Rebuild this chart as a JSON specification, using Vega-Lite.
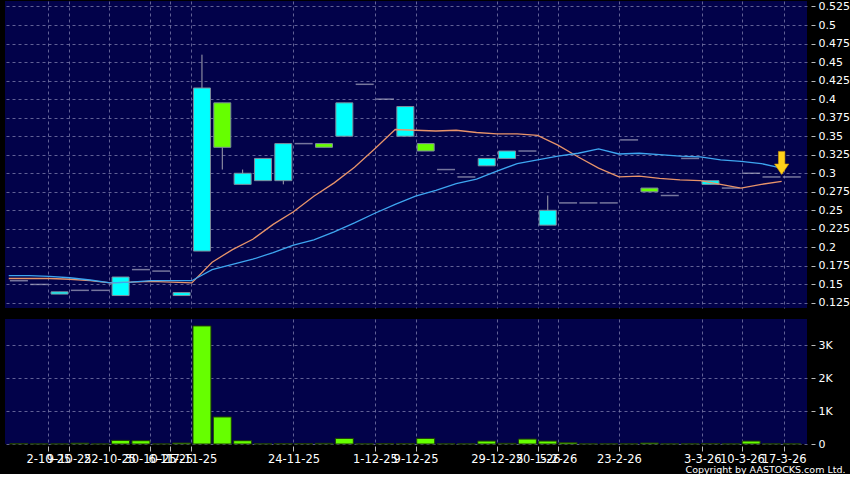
{
  "$schema": "https://vega.github.io/schema/vega-lite/v6.json",
  "background": "#000000",
  "padding": {"left": 5, "top": 0, "right": 0, "bottom": 0},
  "spacing": 11,
  "title": {"text": "Copyright by AASTOCKS.com Ltd.", "orient": "bottom", "anchor": "end", "font": "DejaVu Sans", "fontSize": 9.5, "fontWeight": "normal", "color": "#FFFFFF", "offset": 0, "dx": -4},
  "datasets": {
    "candles": [
      {"k": 0, "o": 0.155, "h": 0.155, "l": 0.155, "c": 0.155, "dir": "flat", "vol": 15},
      {"k": 1, "o": 0.15, "h": 0.15, "l": 0.15, "c": 0.15, "dir": "flat", "vol": 3},
      {"k": 2, "o": 0.137, "h": 0.14, "l": 0.137, "c": 0.14, "dir": "up", "vol": 3},
      {"k": 3, "o": 0.142, "h": 0.142, "l": 0.142, "c": 0.142, "dir": "flat", "vol": 25},
      {"k": 4, "o": 0.142, "h": 0.142, "l": 0.142, "c": 0.142, "dir": "flat", "vol": 3},
      {"k": 5, "o": 0.135, "h": 0.16, "l": 0.135, "c": 0.16, "dir": "up", "vol": 110},
      {"k": 6, "o": 0.17, "h": 0.17, "l": 0.17, "c": 0.17, "dir": "flat", "vol": 100},
      {"k": 7, "o": 0.168, "h": 0.168, "l": 0.168, "c": 0.168, "dir": "flat", "vol": 3},
      {"k": 8, "o": 0.135, "h": 0.139, "l": 0.135, "c": 0.139, "dir": "up", "vol": 30},
      {"k": 9, "o": 0.195, "h": 0.46, "l": 0.195, "c": 0.415, "dir": "up", "vol": 3580},
      {"k": 10, "o": 0.395, "h": 0.395, "l": 0.305, "c": 0.335, "dir": "down", "vol": 820},
      {"k": 11, "o": 0.285, "h": 0.305, "l": 0.285, "c": 0.3, "dir": "up", "vol": 100},
      {"k": 12, "o": 0.29, "h": 0.32, "l": 0.29, "c": 0.32, "dir": "up", "vol": 5},
      {"k": 13, "o": 0.29, "h": 0.34, "l": 0.285, "c": 0.34, "dir": "up", "vol": 15},
      {"k": 14, "o": 0.34, "h": 0.34, "l": 0.34, "c": 0.34, "dir": "flat", "vol": 15},
      {"k": 15, "o": 0.34, "h": 0.34, "l": 0.335, "c": 0.335, "dir": "down", "vol": 20},
      {"k": 16, "o": 0.35, "h": 0.395, "l": 0.35, "c": 0.395, "dir": "up", "vol": 170},
      {"k": 17, "o": 0.42, "h": 0.42, "l": 0.42, "c": 0.42, "dir": "flat", "vol": 5},
      {"k": 18, "o": 0.4, "h": 0.4, "l": 0.4, "c": 0.4, "dir": "flat", "vol": 15},
      {"k": 19, "o": 0.35, "h": 0.39, "l": 0.35, "c": 0.39, "dir": "up", "vol": 15},
      {"k": 20, "o": 0.34, "h": 0.34, "l": 0.33, "c": 0.33, "dir": "down", "vol": 170},
      {"k": 21, "o": 0.305, "h": 0.305, "l": 0.305, "c": 0.305, "dir": "flat", "vol": 5},
      {"k": 22, "o": 0.295, "h": 0.295, "l": 0.295, "c": 0.295, "dir": "flat", "vol": 5},
      {"k": 23, "o": 0.31, "h": 0.32, "l": 0.31, "c": 0.32, "dir": "up", "vol": 90},
      {"k": 24, "o": 0.32, "h": 0.33, "l": 0.32, "c": 0.33, "dir": "up", "vol": 20},
      {"k": 25, "o": 0.33, "h": 0.33, "l": 0.33, "c": 0.33, "dir": "flat", "vol": 150},
      {"k": 26, "o": 0.23, "h": 0.27, "l": 0.23, "c": 0.25, "dir": "up", "vol": 90},
      {"k": 27, "o": 0.26, "h": 0.26, "l": 0.26, "c": 0.26, "dir": "flat", "vol": 40},
      {"k": 28, "o": 0.26, "h": 0.26, "l": 0.26, "c": 0.26, "dir": "flat", "vol": 5},
      {"k": 29, "o": 0.26, "h": 0.26, "l": 0.26, "c": 0.26, "dir": "flat", "vol": 5},
      {"k": 30, "o": 0.345, "h": 0.345, "l": 0.345, "c": 0.345, "dir": "flat", "vol": 5},
      {"k": 31, "o": 0.28, "h": 0.28, "l": 0.275, "c": 0.275, "dir": "down", "vol": 30},
      {"k": 32, "o": 0.27, "h": 0.27, "l": 0.27, "c": 0.27, "dir": "flat", "vol": 5},
      {"k": 33, "o": 0.32, "h": 0.32, "l": 0.32, "c": 0.32, "dir": "flat", "vol": 5},
      {"k": 34, "o": 0.285, "h": 0.29, "l": 0.285, "c": 0.29, "dir": "up", "vol": 15},
      {"k": 35, "o": 0.28, "h": 0.28, "l": 0.28, "c": 0.28, "dir": "flat", "vol": 5},
      {"k": 36, "o": 0.3, "h": 0.3, "l": 0.3, "c": 0.3, "dir": "flat", "vol": 90},
      {"k": 37, "o": 0.295, "h": 0.295, "l": 0.295, "c": 0.295, "dir": "flat", "vol": 5},
      {"k": 38, "o": 0.295, "h": 0.295, "l": 0.295, "c": 0.295, "dir": "flat", "vol": 5}
    ],
    "ma": [
      {"p": -0.5, "s": "a", "v": 0.158}, {"p": 0.5, "s": "a", "v": 0.158}, {"p": 1.5, "s": "a", "v": 0.158},
      {"p": 2.5, "s": "a", "v": 0.157}, {"p": 3.5, "s": "a", "v": 0.155}, {"p": 4.5, "s": "a", "v": 0.152},
      {"p": 5.5, "s": "a", "v": 0.153}, {"p": 6.5, "s": "a", "v": 0.154}, {"p": 7.5, "s": "a", "v": 0.153},
      {"p": 8.5, "s": "a", "v": 0.152}, {"p": 9.5, "s": "a", "v": 0.18}, {"p": 10.5, "s": "a", "v": 0.197},
      {"p": 11.5, "s": "a", "v": 0.211}, {"p": 12.5, "s": "a", "v": 0.231}, {"p": 13.5, "s": "a", "v": 0.248},
      {"p": 14.5, "s": "a", "v": 0.269}, {"p": 15.5, "s": "a", "v": 0.287}, {"p": 16.5, "s": "a", "v": 0.308},
      {"p": 17.5, "s": "a", "v": 0.333}, {"p": 18.5, "s": "a", "v": 0.359}, {"p": 19.5, "s": "a", "v": 0.358},
      {"p": 20.5, "s": "a", "v": 0.357}, {"p": 21.5, "s": "a", "v": 0.358}, {"p": 22.5, "s": "a", "v": 0.355},
      {"p": 23.5, "s": "a", "v": 0.353}, {"p": 24.5, "s": "a", "v": 0.353}, {"p": 25.5, "s": "a", "v": 0.351},
      {"p": 26.5, "s": "a", "v": 0.338}, {"p": 27.5, "s": "a", "v": 0.322}, {"p": 28.5, "s": "a", "v": 0.307},
      {"p": 29.5, "s": "a", "v": 0.295}, {"p": 30.5, "s": "a", "v": 0.296}, {"p": 31.5, "s": "a", "v": 0.293},
      {"p": 32.5, "s": "a", "v": 0.291}, {"p": 33.5, "s": "a", "v": 0.29}, {"p": 34.5, "s": "a", "v": 0.285},
      {"p": 35.5, "s": "a", "v": 0.28}, {"p": 36.5, "s": "a", "v": 0.285}, {"p": 37.5, "s": "a", "v": 0.289},
      {"p": -0.5, "s": "b", "v": 0.162}, {"p": 0.5, "s": "b", "v": 0.162}, {"p": 1.5, "s": "b", "v": 0.161},
      {"p": 2.5, "s": "b", "v": 0.159}, {"p": 3.5, "s": "b", "v": 0.156}, {"p": 4.5, "s": "b", "v": 0.152},
      {"p": 5.5, "s": "b", "v": 0.153}, {"p": 6.5, "s": "b", "v": 0.155}, {"p": 7.5, "s": "b", "v": 0.155},
      {"p": 8.5, "s": "b", "v": 0.155}, {"p": 9.5, "s": "b", "v": 0.17}, {"p": 10.5, "s": "b", "v": 0.177},
      {"p": 11.5, "s": "b", "v": 0.184}, {"p": 12.5, "s": "b", "v": 0.193}, {"p": 13.5, "s": "b", "v": 0.203},
      {"p": 14.5, "s": "b", "v": 0.21}, {"p": 15.5, "s": "b", "v": 0.221}, {"p": 16.5, "s": "b", "v": 0.233},
      {"p": 17.5, "s": "b", "v": 0.246}, {"p": 18.5, "s": "b", "v": 0.258}, {"p": 19.5, "s": "b", "v": 0.269},
      {"p": 20.5, "s": "b", "v": 0.277}, {"p": 21.5, "s": "b", "v": 0.286}, {"p": 22.5, "s": "b", "v": 0.292},
      {"p": 23.5, "s": "b", "v": 0.303}, {"p": 24.5, "s": "b", "v": 0.313}, {"p": 25.5, "s": "b", "v": 0.318},
      {"p": 26.5, "s": "b", "v": 0.323}, {"p": 27.5, "s": "b", "v": 0.327}, {"p": 28.5, "s": "b", "v": 0.333},
      {"p": 29.5, "s": "b", "v": 0.326}, {"p": 30.5, "s": "b", "v": 0.327}, {"p": 31.5, "s": "b", "v": 0.325},
      {"p": 32.5, "s": "b", "v": 0.323}, {"p": 33.5, "s": "b", "v": 0.322}, {"p": 34.5, "s": "b", "v": 0.318},
      {"p": 35.5, "s": "b", "v": 0.316}, {"p": 36.5, "s": "b", "v": 0.313}, {"p": 37.5, "s": "b", "v": 0.307}
    ],
    "arrow": [{"p": 37.5, "v": 0.314}]
  },
  "config": {
    "view": {"fill": "#02024A", "stroke": null},
    "axis": {"labelFont": "DejaVu Sans", "labelColor": "#FFFFFF", "gridColor": "#7A7AAA", "gridDash": [3, 3], "gridWidth": 0.8, "domain": false, "tickColor": "#BBBBBB"}
  },
  "vconcat": [
    {
      "width": 802,
      "height": 307,
      "encoding": {
        "x": {"type": "quantitative", "scale": {"domain": [-0.437, 38.5], "nice": false, "zero": false},
              "axis": {"values": [1.45, 2.45, 4.45, 6.45, 7.45, 8.45, 13.5, 17.5, 19.5, 23.5, 25.5, 26.5, 29.5, 33.6, 35.55, 37.6], "labels": false, "ticks": false, "grid": true, "title": null}},
        "y": {"type": "quantitative", "scale": {"domain": [0.1182, 0.5324], "nice": false, "zero": false},
              "axis": {"orient": "right", "values": [0.125, 0.15, 0.175, 0.2, 0.225, 0.25, 0.275, 0.3, 0.325, 0.35, 0.375, 0.4, 0.425, 0.45, 0.475, 0.5, 0.525], "format": ".3~f", "tickSize": 4, "offset": 4, "labelPadding": 3, "labelFontSize": 11, "grid": true, "title": null}}
      },
      "layer": [
        {
          "data": {"name": "candles"},
          "mark": {"type": "rule", "color": "#A4A4B0", "strokeWidth": 1},
          "encoding": {
            "x": {"field": "k"},
            "y": {"field": "l"},
            "y2": {"field": "h"}
          }
        },
        {
          "data": {"name": "candles"},
          "transform": [{"filter": "datum.dir != 'flat'"}],
          "mark": {"type": "bar", "size": 17, "stroke": "#7E8C9C", "strokeWidth": 1},
          "encoding": {
            "x": {"field": "k"},
            "y": {"field": "o"},
            "y2": {"field": "c"},
            "color": {"field": "dir", "type": "nominal", "scale": {"domain": ["up", "down"], "range": ["#00FFFF", "#66FF00"]}, "legend": null}
          }
        },
        {
          "data": {"name": "candles"},
          "transform": [{"filter": "datum.dir == 'flat'"}],
          "mark": {"type": "tick", "size": 18, "thickness": 1.5, "color": "#A8A8C0", "orient": "horizontal"},
          "encoding": {
            "x": {"field": "k"},
            "y": {"field": "c"}
          }
        },
        {
          "data": {"name": "ma"},
          "transform": [{"filter": "datum.s == 'a'"}],
          "mark": {"type": "line", "strokeWidth": 1.3, "clip": true, "color": "#E8946A"},
          "encoding": {
            "x": {"field": "p"},
            "y": {"field": "v"},
            "order": {"field": "p", "type": "quantitative"}
          }
        },
        {
          "data": {"name": "ma"},
          "transform": [{"filter": "datum.s == 'b'"}],
          "mark": {"type": "line", "strokeWidth": 1.3, "clip": true, "color": "#3EA6F0"},
          "encoding": {
            "x": {"field": "p"},
            "y": {"field": "v"},
            "order": {"field": "p", "type": "quantitative"}
          }
        },
        {
          "data": {"name": "arrow"},
          "mark": {"type": "point", "filled": true, "size": 529, "shape": "M-0.28,-1 L0.28,-1 L0.28,0.1 L0.62,0.1 L0,1 L-0.62,0.1 L-0.28,0.1 Z", "fill": "#FFD21A", "stroke": "#D89A00", "strokeWidth": 0.6, "opacity": 1},
          "encoding": {
            "x": {"field": "p"},
            "y": {"field": "v"}
          }
        }
      ]
    },
    {
      "width": 802,
      "height": 125,
      "data": {"name": "candles"},
      "mark": {"type": "bar", "size": 18, "color": "#66FF00", "stroke": "#1E3A08", "strokeWidth": 1},
      "encoding": {
        "x": {"field": "k", "type": "quantitative", "scale": {"domain": [-0.437, 38.5], "nice": false, "zero": false},
              "axis": {"values": [1.45, 2.45, 4.45, 6.45, 7.45, 8.45, 13.5, 17.5, 19.5, 23.5, 25.5, 26.5, 29.5, 33.6, 35.55, 37.6], "labelExpr": "datum.value < 2 ? '2-10-25' : datum.value < 3 ? '9-10-25' : datum.value < 5 ? '22-10-25' : datum.value < 7 ? '30-10-25' : datum.value < 8 ? '6-11-25' : datum.value < 9 ? '17-11-25' : datum.value < 15 ? '24-11-25' : datum.value < 18 ? '1-12-25' : datum.value < 20 ? '9-12-25' : datum.value < 24 ? '29-12-25' : datum.value < 26 ? '20-1-26' : datum.value < 27 ? '5-2-26' : datum.value < 30 ? '23-2-26' : datum.value < 34 ? '3-3-26' : datum.value < 36 ? '10-3-26' : '17-3-26'", "labelOverlap": false, "labelFlush": false, "labelFontSize": 11.5, "tickSize": 5, "offset": 2, "labelPadding": 2, "grid": true, "title": null}},
        "y": {"field": "vol", "type": "quantitative", "scale": {"domain": [0, 3790], "nice": false},
              "axis": {"orient": "right", "values": [0, 1000, 2000, 3000], "labelExpr": "datum.value == 0 ? '0' : (datum.value / 1000) + 'K'", "tickSize": 4, "offset": 4, "labelPadding": 3, "labelFontSize": 11, "grid": true, "title": null}}
      }
    }
  ]
}
